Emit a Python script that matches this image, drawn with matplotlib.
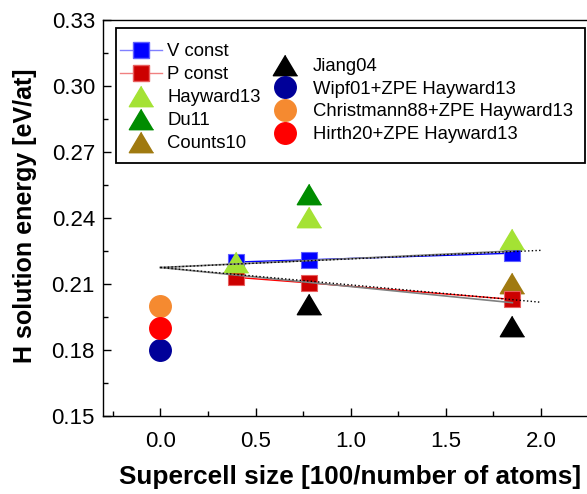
import numpy as np
import matplotlib
matplotlib.use("Agg")
import matplotlib.pyplot as plt
from matplotlib.lines import Line2D
from matplotlib.patches import Rectangle
from matplotlib.ticker import MultipleLocator

plt.rcParams['font.family'] = ['Liberation Sans', 'DejaVu Sans']

# supercell sizes [100/number of atoms]
cell_x = [0.4, 0.78, 1.85]
v_const = [0.220, 0.221, 0.224]
p_const = [0.213, 0.2105, 0.203]

# fitted lines (extrapolated to infinite cell)
fit_x = [0.0, 2.0]
fit_v = [0.2175, 0.2253]
fit_p = [0.2175, 0.2017]
fit2_x = [0.0, 1.85]
fit2_v = [0.2175, 0.2250]
fit2_p = [0.2175, 0.2015]

# literature values
hayward_x = [0.4, 0.78, 1.85]
hayward_y = [0.220, 0.2405, 0.2305]
du_x = [0.78]
du_y = [0.251]
counts_x = [1.85]
counts_y = [0.2105]
jiang_x = [0.78, 1.85]
jiang_y = [0.201, 0.191]
wipf_x = [0.0]
wipf_y = [0.180]
christ_x = [0.0]
christ_y = [0.200]
hirth_x = [0.0]
hirth_y = [0.190]

W, H = 587, 494
fig = plt.figure(figsize=(W / 100, H / 100), dpi=100)
ax = fig.add_axes([103.3 / W, 78 / H, (598 - 103.3) / W, 396 / H])

# wide triangle like the original
TRI = [(0, 0.84), (-1, -0.84), (1, -0.84)]
sq = 12
tri = 17.5
circ = 15.5

ax.plot(cell_x, v_const, '-', color='blue', lw=1, zorder=3)
ax.plot(cell_x, p_const, '-', color='red', lw=1, zorder=3)
ax.plot(cell_x, v_const, 's', color='blue', mec='#5f5fff', mew=0.8, ms=sq, zorder=4)
ax.plot(cell_x, p_const, 's', color='#cc0000', mec='#e86060', mew=0.8, ms=sq, zorder=4)

ax.plot(hayward_x, hayward_y, ls='', marker=TRI, color='#a4e234', ms=tri, zorder=5)
ax.plot(du_x, du_y, ls='', marker=TRI, color='#008c00', ms=tri, zorder=5)
ax.plot(counts_x, counts_y, ls='', marker=TRI, color='#a07a10', ms=tri, zorder=3.5)
ax.plot(jiang_x, jiang_y, ls='', marker=TRI, color='black', ms=tri, zorder=5)
ax.plot(wipf_x, wipf_y, 'o', color='#000099', ms=circ, zorder=5)
ax.plot(christ_x, christ_y, 'o', color='#f58a30', ms=circ, zorder=5)
ax.plot(hirth_x, hirth_y, 'o', color='#ff0000', ms=circ, zorder=5)

ax.plot(fit2_x, fit2_v, '-', color='#808080', lw=1.2, zorder=6)
ax.plot(fit2_x, fit2_p, '-', color='#808080', lw=1.2, zorder=6)
ax.plot(fit_x, fit_v, ':', color='black', lw=1, zorder=6)
ax.plot(fit_x, fit_p, ':', color='black', lw=1, zorder=6)

ax.set_xlim(-0.3, 2.3)
ax.set_ylim(0.15, 0.33)
ax.xaxis.set_major_locator(MultipleLocator(0.5))
ax.xaxis.set_minor_locator(MultipleLocator(0.25))
ax.yaxis.set_minor_locator(MultipleLocator(0.015))
ax.set_yticks([0.15, 0.18, 0.21, 0.24, 0.27, 0.30, 0.33])
ax.set_yticklabels(['0.15', '0.18', '0.21', '0.24', '0.27', '0.30', '0.33'])
ax.tick_params(which='major', direction='in', length=6, width=1, labelsize=16, pad=6)
ax.tick_params(axis='x', which='major', pad=11)
ax.tick_params(which='minor', direction='in', length=3.5, width=1)
for s in ax.spines.values():
    s.set_linewidth(1)

ax.set_xlabel('Supercell size [100/number of atoms]', fontsize=18.8, fontweight='bold')
ax.set_ylabel('H solution energy [eV/at]', fontsize=18, fontweight='bold')


def px(x, y):
    # pixel position (from top-left) -> axes fraction
    return tuple(ax.transAxes.inverted().transform((x, H - y)))


ax.xaxis.set_label_coords(*px(350, 477))
ax.xaxis.label.set_va('center')
ax.yaxis.set_label_coords(*px(25, 216))
ax.yaxis.label.set_va('center')

# legend: two frameless columns inside one box
h1 = [
    Line2D([], [], color='#8080ff', lw=1, marker='s', mfc='blue', mec='#5f5fff', ms=sq),
    Line2D([], [], color='#f08080', lw=1, marker='s', mfc='#cc0000', mec='#e86060', ms=sq),
    Line2D([], [], ls='', marker=TRI, color='#a4e234', ms=tri),
    Line2D([], [], ls='', marker=TRI, color='#008c00', ms=tri),
    Line2D([], [], ls='', marker=TRI, color='#a07a10', ms=tri),
]
l1 = ['V const', 'P const', 'Hayward13', 'Du11', 'Counts10']
h2 = [
    Line2D([], [], ls='', marker=TRI, color='black', ms=tri),
    Line2D([], [], ls='', marker='o', color='#000099', ms=circ),
    Line2D([], [], ls='', marker='o', color='#f58a30', ms=circ),
    Line2D([], [], ls='', marker='o', color='#ff0000', ms=circ),
]
l2 = ['Jiang04', 'Wipf01+ZPE Hayward13', 'Christmann88+ZPE Hayward13', 'Hirth20+ZPE Hayward13']

fs = 13.3
leg1 = ax.legend(h1, l1, loc='upper left', bbox_to_anchor=px(120, 43), frameon=False,
                 fontsize=fs, handlelength=2.3, handletextpad=0.27, labelspacing=0.33,
                 borderaxespad=0, borderpad=0)
ax.add_artist(leg1)
ax.legend(h2, l2, loc='upper left', bbox_to_anchor=px(272, 58), frameon=False,
          fontsize=fs, handlelength=1.4, handletextpad=0.8, labelspacing=0.31,
          borderaxespad=0, borderpad=0)

x0, y0 = px(116, 163)
x1, y1 = px(585, 28)
ax.add_patch(Rectangle((x0, y0), x1 - x0, y1 - y0, transform=ax.transAxes,
                       fill=False, ec='black', lw=1.3, zorder=7, clip_on=False))

fig.savefig('out.png', dpi=100)
